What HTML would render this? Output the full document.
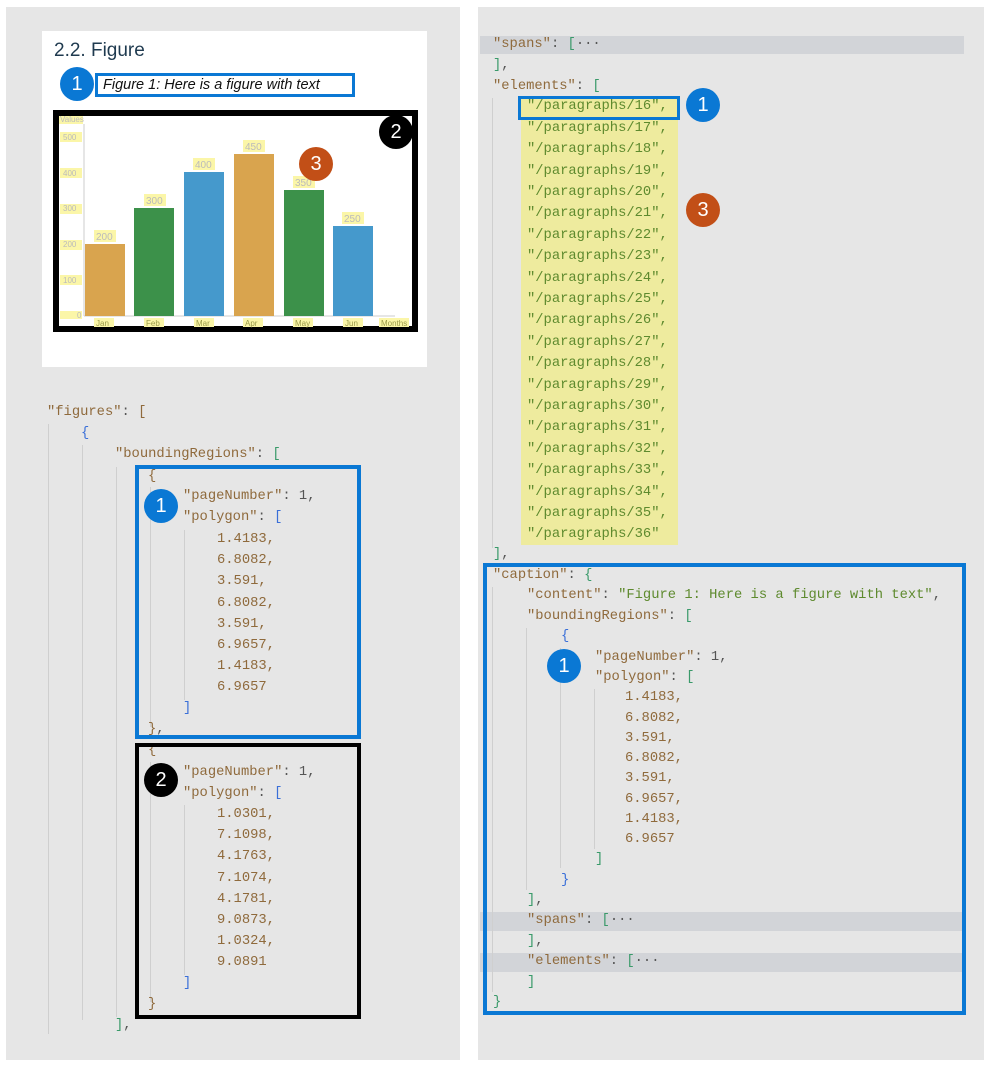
<!DOCTYPE html>
<html><head><meta charset="utf-8"><style>
body{margin:0;width:990px;height:1067px;background:#fff;position:relative;overflow:hidden;font-family:"Liberation Mono",monospace;}
.p{position:absolute;background:#e6e6e6;}
.t{position:absolute;font-size:13.8px;line-height:16px;white-space:pre;color:#555;margin-top:-8px;}
.k{color:#8f6a3c}.s{color:#5e8a2e}.b{color:#3a6fd8}.g{color:#3a9a6a}.n{color:#8f6a3c}
.c{position:absolute;width:34px;height:34px;border-radius:50%;color:#fff;font:20px/34px "Liberation Sans",sans-serif;text-align:center;}
.bl{background:#0a78d4}.bk{background:#000}.or{background:#c24f17}
.box{position:absolute;box-sizing:border-box;}
.gl{position:absolute;width:1px;background:#cfcfcf;}
.hl{position:absolute;background:#d2d4d8;}
</style></head><body>
<div class="p" style="left:6px;top:7px;width:454px;height:1053px"></div>
<div class="p" style="left:478px;top:7px;width:506px;height:1053px"></div>

<!-- white card -->
<div style="position:absolute;left:42px;top:31px;width:385px;height:336px;background:#fff"></div>
<div style="position:absolute;left:54px;top:40px;font:19px 'Liberation Sans',sans-serif;color:#1f3a4f">2.2. Figure</div>
<div class="box" style="left:95px;top:73px;width:260px;height:24px;border:3px solid #0a78d4;font:italic 14.5px/18px 'Liberation Sans',sans-serif;color:#111;padding-left:5px">Figure 1: Here is a figure with text</div>
<div class="c bl" style="left:60px;top:67px">1</div>

<!-- chart -->
<div class="box" style="left:53px;top:110px;width:365px;height:222px;border:6px solid #000;background:#fff"></div>
<svg style="position:absolute;left:0;top:0" width="990" height="400">
<g font-family="Liberation Sans" font-size="8" fill="#bbb">
<rect x="59" y="116" width="24" height="8" fill="#fbf6a8"/><text x="60" y="122">Values</text>
<line x1="84" y1="124" x2="84" y2="316" stroke="#ccc"/>
<line x1="84" y1="316" x2="395" y2="316" stroke="#ccc"/>
<rect x="60" y="132" width="22" height="10" fill="#fbf6a8"/><text x="63" y="140">500</text>
<rect x="60" y="168" width="22" height="10" fill="#fbf6a8"/><text x="63" y="176">400</text>
<rect x="60" y="204" width="22" height="10" fill="#fbf6a8"/><text x="63" y="211">300</text>
<rect x="60" y="240" width="22" height="10" fill="#fbf6a8"/><text x="63" y="247">200</text>
<rect x="60" y="275" width="22" height="10" fill="#fbf6a8"/><text x="63" y="283">100</text>
<rect x="60" y="311" width="22" height="8" fill="#fbf6a8"/><text x="77" y="318">0</text>
<rect x="85" y="244" width="40" height="72" fill="#d9a44e"/>
<rect x="134" y="208" width="40" height="108" fill="#3c914a"/>
<rect x="184" y="172" width="40" height="144" fill="#4599cc"/>
<rect x="234" y="154" width="40" height="162" fill="#d9a44e"/>
<rect x="284" y="190" width="40" height="126" fill="#3c914a"/>
<rect x="333" y="226" width="40" height="90" fill="#4599cc"/>
<g font-size="10"><rect x="94" y="230" width="22" height="12" fill="#fbf6a8"/><text x="96" y="240">200</text>
<rect x="144" y="194" width="22" height="12" fill="#fbf6a8"/><text x="146" y="204">300</text>
<rect x="193" y="158" width="22" height="12" fill="#fbf6a8"/><text x="195" y="168">400</text>
<rect x="243" y="140" width="22" height="12" fill="#fbf6a8"/><text x="245" y="150">450</text>
<rect x="293" y="176" width="22" height="12" fill="#fbf6a8"/><text x="295" y="186">350</text>
<rect x="342" y="212" width="22" height="12" fill="#fbf6a8"/><text x="344" y="222">250</text></g>
<g fill="#9a9a4a"><rect x="94" y="318" width="20" height="9" fill="#fbf6a8"/><text x="96" y="326">Jan</text>
<rect x="144" y="318" width="20" height="9" fill="#fbf6a8"/><text x="146" y="326">Feb</text>
<rect x="194" y="318" width="20" height="9" fill="#fbf6a8"/><text x="196" y="326">Mar</text>
<rect x="243" y="318" width="20" height="9" fill="#fbf6a8"/><text x="245" y="326">Apr</text>
<rect x="293" y="318" width="20" height="9" fill="#fbf6a8"/><text x="295" y="326">May</text>
<rect x="343" y="318" width="20" height="9" fill="#fbf6a8"/><text x="345" y="326">Jun</text>
<rect x="379" y="318" width="30" height="9" fill="#fbf6a8"/><text x="381" y="326">Months</text></g>
</g></svg>
<div class="c bk" style="left:379px;top:115px">2</div>
<div class="c or" style="left:299px;top:147px">3</div>

<!-- left JSON guides -->
<div class="gl" style="left:48px;top:424px;height:610px"></div>
<div class="gl" style="left:82px;top:445px;height:575px"></div>
<div class="gl" style="left:116px;top:467px;height:550px"></div>
<div class="gl" style="left:150px;top:487px;height:240px"></div>
<div class="gl" style="left:184px;top:530px;height:170px"></div>
<div class="gl" style="left:150px;top:762px;height:240px"></div>
<div class="gl" style="left:184px;top:805px;height:170px"></div>

<div class="t" style="left:47px;top:413px"><span class="k">"figures"</span>: <span class="k">[</span></div>
<div class="t" style="left:81px;top:434px"><span class="b">{</span></div>
<div class="t" style="left:115px;top:455px"><span class="k">"boundingRegions"</span>: <span class="g">[</span></div>
<div class="t" style="left:148px;top:477px"><span class="k">{</span></div>
<div class="t" style="left:183px;top:497px"><span class="k">"pageNumber"</span>: 1,</div>
<div class="t" style="left:183px;top:518px"><span class="k">"polygon"</span>: <span class="b">[</span></div>
<div class="t n" style="left:217px;top:540px">1.4183,</div>
<div class="t n" style="left:217px;top:561px">6.8082,</div>
<div class="t n" style="left:217px;top:582px">3.591,</div>
<div class="t n" style="left:217px;top:604px">6.8082,</div>
<div class="t n" style="left:217px;top:625px">3.591,</div>
<div class="t n" style="left:217px;top:646px">6.9657,</div>
<div class="t n" style="left:217px;top:667px">1.4183,</div>
<div class="t n" style="left:217px;top:688px">6.9657</div>
<div class="t b" style="left:183px;top:709px">]</div>
<div class="t" style="left:148px;top:730px"><span class="k">}</span>,</div>
<div class="t" style="left:148px;top:751px"><span class="k">{</span></div>
<div class="t" style="left:183px;top:773px"><span class="k">"pageNumber"</span>: 1,</div>
<div class="t" style="left:183px;top:794px"><span class="k">"polygon"</span>: <span class="b">[</span></div>
<div class="t n" style="left:217px;top:815px">1.0301,</div>
<div class="t n" style="left:217px;top:836px">7.1098,</div>
<div class="t n" style="left:217px;top:857px">4.1763,</div>
<div class="t n" style="left:217px;top:879px">7.1074,</div>
<div class="t n" style="left:217px;top:900px">4.1781,</div>
<div class="t n" style="left:217px;top:921px">9.0873,</div>
<div class="t n" style="left:217px;top:942px">1.0324,</div>
<div class="t n" style="left:217px;top:963px">9.0891</div>
<div class="t b" style="left:183px;top:984px">]</div>
<div class="t" style="left:148px;top:1005px"><span class="k">}</span></div>
<div class="t" style="left:115px;top:1026px"><span class="g">]</span>,</div>
<div class="box" style="left:135px;top:465px;width:226px;height:274px;border:4px solid #0a78d4"></div>
<div class="box" style="left:135px;top:743px;width:226px;height:276px;border:4px solid #000"></div>
<div class="c bl" style="left:144px;top:489px">1</div>
<div class="c bk" style="left:144px;top:763px">2</div>

<!-- right JSON -->
<div class="hl" style="left:480px;top:36px;width:484px;height:18px"></div>
<div class="hl" style="left:480px;top:912px;width:482px;height:19px"></div>
<div class="hl" style="left:480px;top:953px;width:482px;height:19px"></div>
<div style="position:absolute;left:521px;top:98px;width:157px;height:447px;background:#eeeb9e"></div>
<div class="gl" style="left:492px;top:98px;height:450px"></div>
<div class="gl" style="left:492px;top:587px;height:405px"></div>
<div class="gl" style="left:526px;top:628px;height:262px"></div>
<div class="gl" style="left:560px;top:648px;height:220px"></div>
<div class="gl" style="left:594px;top:689px;height:160px"></div>

<div class="t" style="left:493px;top:45px"><span class="k">"spans"</span>: <span class="g">[</span>···</div>
<div class="t" style="left:493px;top:66px"><span class="g">]</span>,</div>
<div class="t" style="left:493px;top:87px"><span class="k">"elements"</span>: <span class="g">[</span></div>
<div class="t s" style="left:527px;top:107px">"/paragraphs/16",
"/paragraphs/17",
"/paragraphs/18",
"/paragraphs/19",
"/paragraphs/20",
"/paragraphs/21",
"/paragraphs/22",
"/paragraphs/23",
"/paragraphs/24",
"/paragraphs/25",
"/paragraphs/26",
"/paragraphs/27",
"/paragraphs/28",
"/paragraphs/29",
"/paragraphs/30",
"/paragraphs/31",
"/paragraphs/32",
"/paragraphs/33",
"/paragraphs/34",
"/paragraphs/35",
"/paragraphs/36"</div>
<style>.t.s[style*="top:107px"]{line-height:21.4px;margin-top:-10.7px}</style>
<div class="t" style="left:493px;top:555px"><span class="g">]</span>,</div>
<div class="t" style="left:493px;top:576px"><span class="k">"caption"</span>: <span class="g">{</span></div>
<div class="t" style="left:527px;top:596px"><span class="k">"content"</span>: <span class="s">"Figure 1: Here is a figure with text"</span>,</div>
<div class="t" style="left:527px;top:617px"><span class="k">"boundingRegions"</span>: <span class="g">[</span></div>
<div class="t b" style="left:561px;top:637px">{</div>
<div class="t" style="left:595px;top:658px"><span class="k">"pageNumber"</span>: 1,</div>
<div class="t" style="left:595px;top:678px"><span class="k">"polygon"</span>: <span class="g">[</span></div>
<div class="t n" style="left:625px;top:698px">1.4183,</div>
<div class="t n" style="left:625px;top:719px">6.8082,</div>
<div class="t n" style="left:625px;top:739px">3.591,</div>
<div class="t n" style="left:625px;top:759px">6.8082,</div>
<div class="t n" style="left:625px;top:779px">3.591,</div>
<div class="t n" style="left:625px;top:800px">6.9657,</div>
<div class="t n" style="left:625px;top:820px">1.4183,</div>
<div class="t n" style="left:625px;top:840px">6.9657</div>
<div class="t g" style="left:595px;top:860px">]</div>
<div class="t b" style="left:561px;top:881px">}</div>
<div class="t" style="left:527px;top:901px"><span class="g">]</span>,</div>
<div class="t" style="left:527px;top:921px"><span class="k">"spans"</span>: <span class="g">[</span>···</div>
<div class="t" style="left:527px;top:942px"><span class="g">]</span>,</div>
<div class="t" style="left:527px;top:962px"><span class="k">"elements"</span>: <span class="g">[</span>···</div>
<div class="t g" style="left:527px;top:983px">]</div>
<div class="t g" style="left:493px;top:1003px">}</div>

<div class="box" style="left:518px;top:96px;width:162px;height:24px;border:3px solid #0a78d4"></div>
<div class="box" style="left:483px;top:563px;width:483px;height:452px;border:4px solid #0a78d4"></div>
<div class="c bl" style="left:686px;top:88px">1</div>
<div class="c or" style="left:686px;top:193px">3</div>
<div class="c bl" style="left:547px;top:649px">1</div>
</body></html>
